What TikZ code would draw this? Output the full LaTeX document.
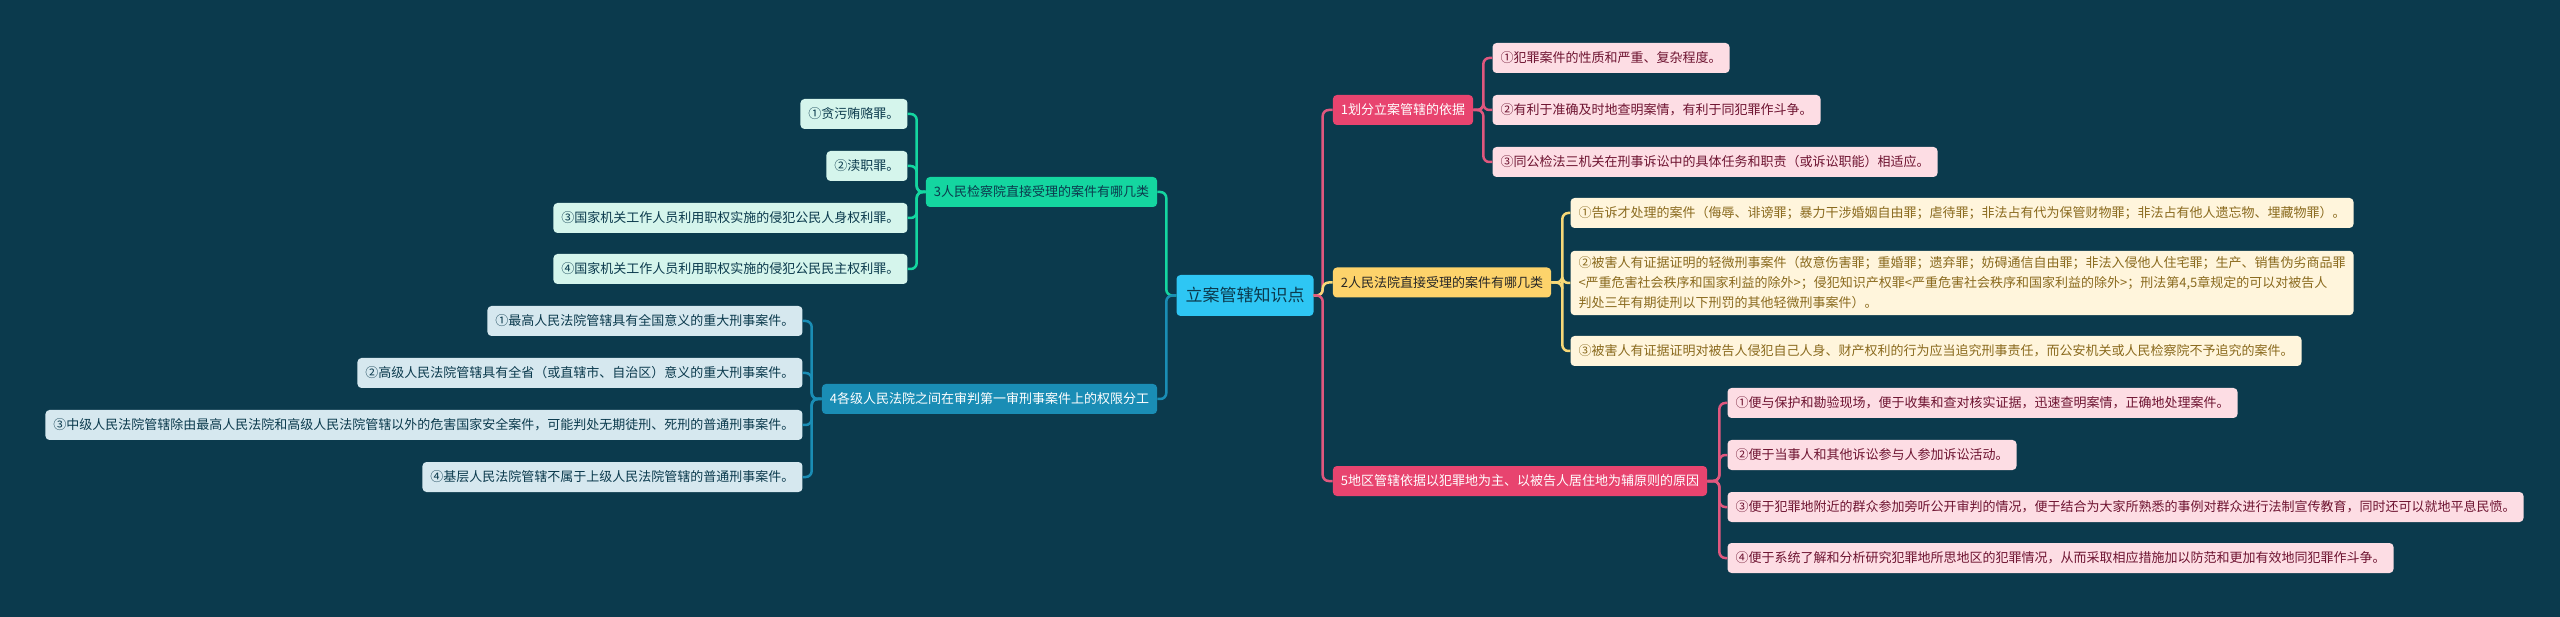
\documentclass[tikz,border=0pt]{standalone}
\usepackage{fontspec}
\setmainfont{Noto Sans CJK SC}
\usetikzlibrary{positioning}
\definecolor{bg}{HTML}{0B3A4D}
\definecolor{rootc}{HTML}{2EC6F4}
\definecolor{redc}{HTML}{E8446F}
\definecolor{redl}{HTML}{E0577E}
\definecolor{redf}{HTML}{FDDDE4}
\definecolor{redt}{HTML}{6E1431}
\definecolor{yelc}{HTML}{FDD36B}
\definecolor{yell}{HTML}{F6D878}
\definecolor{yelf}{HTML}{FFF5DC}
\definecolor{yelt}{HTML}{8A6A1E}
\definecolor{grnc}{HTML}{14D6A0}
\definecolor{grnf}{HTML}{D5F5EC}
\definecolor{bluc}{HTML}{1A8DB5}
\definecolor{bluf}{HTML}{D6E8EF}

\begin{document}
\begin{tikzpicture}[x=1pt,y=-1pt,
  box/.style={rounded corners=4pt,inner xsep=8pt,inner ysep=0pt,minimum height=30pt,
    font=\fontsize{13pt}{20pt}\selectfont},
  lt/.style={box,anchor=east},
  rt/.style={box,anchor=west},
  link/.style={line width=2.5pt,rounded corners=6pt}]
\fill[bg] (0,0) rectangle (2560,617);
\useasboundingbox (0,0) rectangle (2560,617);

\node[box,fill=rootc,text=bg,minimum height=41pt,inner xsep=9pt,
  font=\fontsize{17pt}{20pt}\selectfont] (root) at (1245,295.5) {立案管辖知识点};

% right side
\node[rt,fill=redc,text=white,xshift=19pt] (b1) at (root.east |- 0,110) {1划分立案管辖的依据};
\node[rt,fill=yelc,text=black!85,xshift=19pt] (b2) at (root.east |- 0,282.5) {2人民法院直接受理的案件有哪几类};
\node[rt,fill=redc,text=white,xshift=19pt] (b5) at (root.east |- 0,481) {5地区管辖依据以犯罪地为主、以被告人居住地为辅原则的原因};

% left side
\node[lt,fill=grnc,text=bg,xshift=-19pt] (b3) at (root.west |- 0,192) {3人民检察院直接受理的案件有哪几类};
\node[lt,fill=bluc,text=white,xshift=-19pt] (b4) at (root.west |- 0,399) {4各级人民法院之间在审判第一审刑事案件上的权限分工};

\draw[link,redl] (root.east) -- ++(9,0) |- (b1.west);
\draw[link,yell] (root.east) -- ++(9,0) |- (b2.west);
\draw[link,redl] (root.east) -- ++(9,0) |- (b5.west);
\draw[link,grnc] (root.west) -- ++(-10,0) |- (b3.east);
\draw[link,bluc] (root.west) -- ++(-10,0) |- (b4.east);

% 1
\node[rt,fill=redf,text=redt,xshift=19pt] (c11) at (b1.east |- 0,58) {①犯罪案件的性质和严重、复杂程度。};
\node[rt,fill=redf,text=redt,xshift=19pt] (c12) at (b1.east |- 0,110) {②有利于准确及时地查明案情，有利于同犯罪作斗争。};
\node[rt,fill=redf,text=redt,xshift=19pt] (c13) at (b1.east |- 0,162) {③同公检法三机关在刑事诉讼中的具体任务和职责（或诉讼职能）相适应。};
\foreach \i in {1,2,3}
  \draw[link,redl] (b1.east) -- ++(10,0) |- (c1\i.west);

% 2
\node[rt,fill=yelf,text=yelt,xshift=19pt] (c21) at (b2.east |- 0,213) {①告诉才处理的案件（侮辱、诽谤罪；暴力干涉婚姻自由罪；虐待罪；非法占有代为保管财物罪；非法占有他人遗忘物、埋藏物罪）。};
\node[rt,fill=yelf,text=yelt,xshift=19pt,align=left,inner ysep=6pt] (c22) at (b2.east |- 0,283) {②被害人有证据证明的轻微刑事案件（故意伤害罪；重婚罪；遗弃罪；妨碍通信自由罪；非法入侵他人住宅罪；生产、销售伪劣商品罪\\<严重危害社会秩序和国家利益的除外>；侵犯知识产权罪<严重危害社会秩序和国家利益的除外>；刑法第4,5章规定的可以对被告人\\判处三年有期徒刑以下刑罚的其他轻微刑事案件）。};
\node[rt,fill=yelf,text=yelt,xshift=19pt] (c23) at (b2.east |- 0,351) {③被害人有证据证明对被告人侵犯自己人身、财产权利的行为应当追究刑事责任，而公安机关或人民检察院不予追究的案件。};
\foreach \i in {1,2,3}
  \draw[link,yell] (b2.east) -- ++(11,0) |- (c2\i.west);

% 5
\node[rt,fill=redf,text=redt,xshift=20pt] (c51) at (b5.east |- 0,403) {①便与保护和勘验现场，便于收集和查对核实证据，迅速查明案情，正确地处理案件。};
\node[rt,fill=redf,text=redt,xshift=20pt] (c52) at (b5.east |- 0,455) {②便于当事人和其他诉讼参与人参加诉讼活动。};
\node[rt,fill=redf,text=redt,xshift=20pt] (c53) at (b5.east |- 0,507) {③便于犯罪地附近的群众参加旁听公开审判的情况，便于结合为大家所熟悉的事例对群众进行法制宣传教育，同时还可以就地平息民愤。};
\node[rt,fill=redf,text=redt,xshift=20pt] (c54) at (b5.east |- 0,558) {④便于系统了解和分析研究犯罪地所思地区的犯罪情况，从而采取相应措施加以防范和更加有效地同犯罪作斗争。};
\foreach \i in {1,...,4}
  \draw[link,redl] (b5.east) -- ++(12,0) |- (c5\i.west);

% 3
\node[lt,fill=grnf,text=bg,xshift=-18pt] (c31) at (b3.west |- 0,114) {①贪污贿赂罪。};
\node[lt,fill=grnf,text=bg,xshift=-18pt] (c32) at (b3.west |- 0,166) {②渎职罪。};
\node[lt,fill=grnf,text=bg,xshift=-18pt] (c33) at (b3.west |- 0,218) {③国家机关工作人员利用职权实施的侵犯公民人身权利罪。};
\node[lt,fill=grnf,text=bg,xshift=-18pt] (c34) at (b3.west |- 0,269) {④国家机关工作人员利用职权实施的侵犯公民民主权利罪。};
\foreach \i in {1,...,4}
  \draw[link,grnc] (b3.west) -- ++(-9,0) |- (c3\i.east);

% 4
\node[lt,fill=bluf,text=bg,xshift=-19pt] (c41) at (b4.west |- 0,321) {①最高人民法院管辖具有全国意义的重大刑事案件。};
\node[lt,fill=bluf,text=bg,xshift=-19pt] (c42) at (b4.west |- 0,373) {②高级人民法院管辖具有全省（或直辖市、自治区）意义的重大刑事案件。};
\node[lt,fill=bluf,text=bg,xshift=-19pt] (c43) at (b4.west |- 0,425) {③中级人民法院管辖除由最高人民法院和高级人民法院管辖以外的危害国家安全案件，可能判处无期徒刑、死刑的普通刑事案件。};
\node[lt,fill=bluf,text=bg,xshift=-19pt] (c44) at (b4.west |- 0,477) {④基层人民法院管辖不属于上级人民法院管辖的普通刑事案件。};
\foreach \i in {1,...,4}
  \draw[link,bluc] (b4.west) -- ++(-10,0) |- (c4\i.east);
\end{tikzpicture}
\end{document}
